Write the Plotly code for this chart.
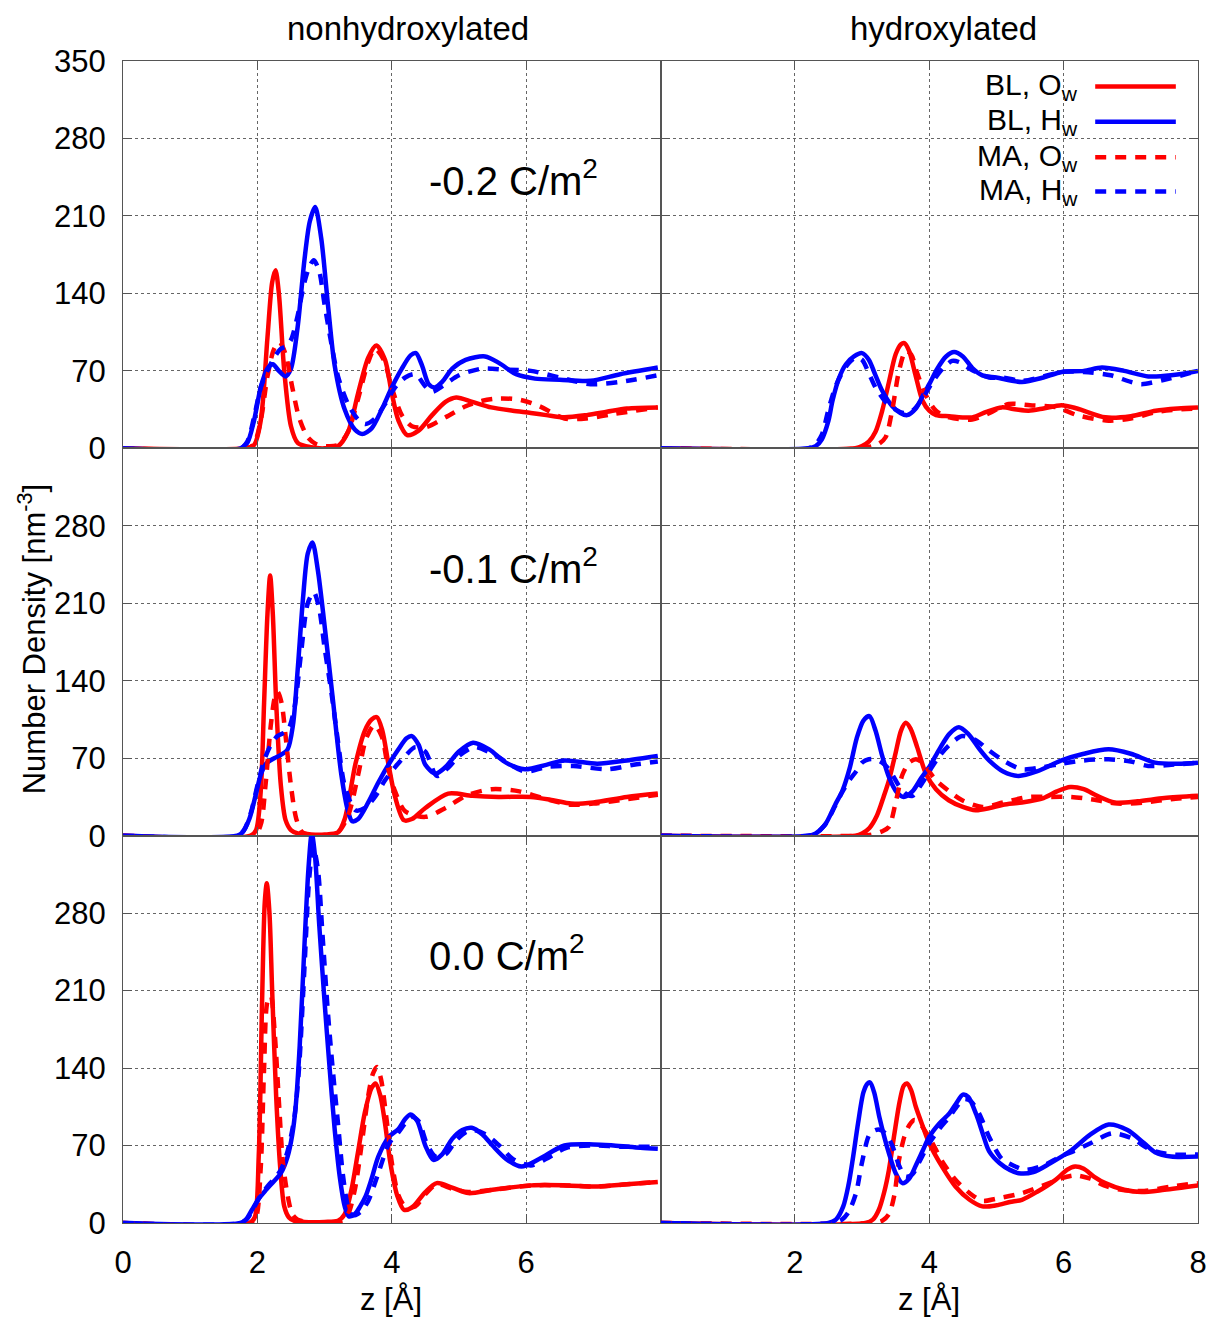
import plotly.graph_objects as go
from plotly.subplots import make_subplots

# ---------------- data (z in Angstrom, number density in nm^-3) ----------------
col_titles = ["nonhydroxylated", "hydroxylated"]
charge_labels = ["-0.2 C/m<sup>2</sup>", "-0.1 C/m<sup>2</sup>", "0.0 C/m<sup>2</sup>"]
series_names = ["BL, O<sub>w</sub>", "BL, H<sub>w</sub>", "MA, O<sub>w</sub>", "MA, H<sub>w</sub>"]
y_ticks = [0, 70, 140, 210, 280, 350]
x_ticks_left = [0, 2, 4, 6]
x_ticks_right = [2, 4, 6, 8]

# Row 1, left (-0.2, nonhydroxylated)
p1_blo_z = [0, 1.8, 1.95, 2.05, 2.15, 2.22, 2.27, 2.32, 2.4, 2.5, 2.6, 2.8, 3.0, 3.2, 3.35, 3.5, 3.65, 3.77, 3.9, 4.0, 4.1, 4.23, 4.4, 4.6, 4.8, 4.96, 5.2, 5.48, 5.8, 6.07, 6.3, 6.57, 6.9, 7.2, 7.5, 7.96]
p1_blo_n = [0, 0, 3, 25, 100, 150, 161, 140, 70, 20, 5, 1, 0, 2, 15, 50, 82, 93, 80, 50, 25, 12, 16, 30, 42, 46, 42, 37, 34, 32, 30, 28, 30, 33, 36, 37]
p1_blh_z = [0, 1.75, 1.85, 1.95, 2.05, 2.15, 2.23, 2.32, 2.42, 2.5, 2.6, 2.7, 2.78, 2.86, 2.95, 3.05, 3.15, 3.3, 3.45, 3.56, 3.7, 3.85, 4.0, 4.15, 4.28, 4.36, 4.45, 4.55, 4.64, 4.75, 4.9, 5.1, 5.39, 5.6, 5.85, 6.13, 6.5, 6.96, 7.4, 7.96]
p1_blh_n = [0, 0, 5, 25, 55, 72, 76, 70, 65, 72, 110, 170, 205, 218, 190, 130, 75, 35, 17, 13, 18, 35, 55, 72, 84, 86, 75, 58, 55, 60, 72, 80, 83, 77, 67, 63, 62, 61, 67, 73]
p1_mao_z = [0, 1.85, 1.95, 2.05, 2.15, 2.25, 2.33, 2.42, 2.52, 2.62, 2.75, 2.87, 3.0, 3.2, 3.35, 3.5, 3.65, 3.75, 3.88, 4.0, 4.15, 4.3, 4.5, 4.8, 5.1, 5.35, 5.59, 5.9, 6.2, 6.57, 6.9, 7.3, 7.96]
p1_mao_n = [0, 0, 4, 25, 65, 90, 96, 85, 55, 28, 10, 4, 2, 3, 15, 45, 78, 90, 80, 55, 30, 20, 19, 28, 38, 43, 45, 44, 38, 27, 27, 31, 37]
p1_mah_z = [0, 1.75, 1.85, 1.95, 2.05, 2.15, 2.25, 2.35, 2.42, 2.5, 2.6, 2.7, 2.78, 2.84, 2.92, 3.0, 3.1, 3.2, 3.35, 3.5, 3.61, 3.75, 3.9, 4.05, 4.2, 4.35, 4.5, 4.6, 4.75, 5.0, 5.34, 5.7, 6.07, 6.5, 6.96, 7.4, 7.96]
p1_mah_n = [0, 0, 6, 28, 55, 70, 82, 90, 92, 98, 120, 150, 165, 170, 160, 130, 95, 65, 40, 26, 22, 27, 40, 55, 64, 67, 56, 51, 56, 66, 72, 71, 70, 64, 58, 60, 66]

# Row 1, right (-0.2, hydroxylated)
p2_blo_z = [0, 2.9, 3.0, 3.1, 3.2, 3.3, 3.4, 3.5, 3.58, 3.63, 3.7, 3.8, 3.9, 4.0, 4.1, 4.3, 4.64, 4.85, 5.08, 5.3, 5.48, 5.7, 5.97, 6.2, 6.62, 7.0, 7.37, 7.7, 8.0]
p2_blo_n = [0, 0, 2, 6, 15, 34, 60, 85, 94, 95, 88, 65, 43, 34, 30, 29, 28, 33, 37, 35, 34, 36, 39, 36, 28, 29, 34, 36, 37]
p2_blh_z = [0, 2.2, 2.31, 2.4, 2.5, 2.56, 2.66, 2.76, 2.88, 3.0, 3.1, 3.2, 3.3, 3.45, 3.57, 3.67, 3.8, 3.9, 4.0, 4.12, 4.25, 4.37, 4.5, 4.65, 4.79, 5.0, 5.38, 5.7, 5.97, 6.3, 6.57, 6.9, 7.26, 7.6, 8.0]
p2_blh_n = [0, 0, 2, 8, 25, 43, 64, 76, 83, 86, 80, 66, 52, 38, 32, 30, 36, 47, 58, 72, 83, 87, 83, 72, 66, 64, 60, 64, 69, 70, 73, 70, 65, 66, 70]
p2_mao_z = [0, 3.0, 3.15, 3.25, 3.35, 3.45, 3.55, 3.65, 3.73, 3.82, 3.95, 4.1, 4.3, 4.64, 4.9, 5.18, 5.5, 5.9, 6.2, 6.67, 7.0, 7.4, 7.7, 8.0]
p2_mao_n = [0, 0, 2, 4, 10, 35, 70, 88, 85, 68, 48, 34, 28, 26, 32, 40, 39, 37, 30, 25, 27, 33, 35, 36]
p2_mah_z = [0, 2.2, 2.3, 2.4, 2.5, 2.6, 2.7, 2.8, 2.91, 3.0, 3.1, 3.2, 3.35, 3.5, 3.62, 3.75, 3.9, 4.05, 4.2, 4.34, 4.44, 4.6, 4.89, 5.1, 5.38, 5.7, 5.97, 6.3, 6.7, 7.0, 7.16, 7.5, 8.0]
p2_mah_n = [0, 0, 3, 12, 35, 55, 68, 77, 82, 80, 68, 55, 42, 35, 32, 34, 45, 60, 72, 79, 78, 72, 64, 64, 61, 65, 69, 69, 66, 60, 58, 62, 70]

# Row 2, left (-0.1, nonhydroxylated)
p3_blo_z = [0, 1.9, 1.98, 2.05, 2.1, 2.15, 2.19, 2.23, 2.28, 2.35, 2.42, 2.5, 2.6, 2.8, 3.0, 3.2, 3.3, 3.46, 3.6, 3.7, 3.78, 3.86, 3.95, 4.05, 4.18, 4.3, 4.5, 4.84, 5.2, 5.59, 6.07, 6.4, 6.67, 7.0, 7.5, 7.96]
p3_blo_n = [0, 0, 5, 40, 120, 200, 235, 200, 120, 45, 14, 5, 2, 1, 1, 3, 15, 65, 95, 105, 107, 95, 65, 35, 14, 15, 25, 38, 36, 35, 35, 32, 29, 30, 35, 38]
p3_blh_z = [0, 1.7, 1.78, 1.88, 1.98, 2.05, 2.13, 2.25, 2.35, 2.45, 2.53, 2.6, 2.68, 2.75, 2.82, 2.9, 3.0, 3.12, 3.25, 3.35, 3.41, 3.5, 3.65, 3.8, 3.96, 4.1, 4.22, 4.3, 4.4, 4.5, 4.65, 4.8, 5.0, 5.21, 5.45, 5.7, 5.98, 6.3, 6.57, 7.06, 7.5, 7.96]
p3_blh_n = [0, 0, 3, 15, 38, 55, 65, 70, 73, 78, 100, 150, 215, 255, 265, 240, 190, 125, 55, 22, 13, 15, 30, 48, 65, 78, 88, 90, 82, 64, 56, 62, 76, 84, 78, 66, 60, 64, 68, 65, 68, 72]
p3_mao_z = [0, 1.95, 2.05, 2.12, 2.2, 2.26, 2.3, 2.36, 2.42, 2.5, 2.58, 2.67, 2.8, 3.0, 3.2, 3.35, 3.5, 3.62, 3.74, 3.85, 3.95, 4.05, 4.2, 4.5, 4.8, 5.1, 5.49, 5.9, 6.3, 6.67, 7.0, 7.5, 7.96]
p3_mao_n = [0, 0, 10, 45, 100, 125, 130, 120, 90, 45, 15, 3, 1, 0, 3, 18, 55, 88, 100, 90, 60, 40, 22, 17, 25, 36, 42, 40, 33, 28, 29, 33, 37]
p3_mah_z = [0, 1.7, 1.8, 1.9, 2.0, 2.1, 2.2, 2.3, 2.45, 2.55, 2.65, 2.75, 2.84, 2.92, 3.0, 3.1, 3.2, 3.3, 3.46, 3.6, 3.75, 3.9, 4.05, 4.2, 4.35, 4.5, 4.67, 4.85, 5.0, 5.23, 5.5, 5.98, 6.3, 6.7, 7.2, 7.6, 7.96]
p3_mah_n = [0, 0, 5, 20, 45, 68, 82, 90, 95, 115, 165, 210, 220, 205, 170, 130, 85, 45, 23, 25, 35, 50, 62, 72, 80, 76, 54, 62, 72, 80, 74, 58, 62, 63, 60, 64, 67]

# Row 2, right (-0.1, hydroxylated)
p4_blo_z = [0, 2.9, 3.0, 3.11, 3.22, 3.32, 3.4, 3.5, 3.58, 3.65, 3.72, 3.82, 3.95, 4.1, 4.29, 4.5, 4.69, 4.9, 5.1, 5.38, 5.7, 5.9, 6.1, 6.3, 6.5, 6.76, 7.1, 7.5, 8.0]
p4_blo_n = [0, 0, 2, 7, 18, 35, 50, 75, 95, 102, 97, 80, 56, 42, 32, 26, 23, 25, 28, 30, 34, 40, 44, 42, 36, 30, 31, 34, 36]
p4_blh_z = [0, 2.2, 2.31, 2.45, 2.6, 2.71, 2.82, 2.92, 3.02, 3.11, 3.2, 3.3, 3.4, 3.52, 3.62, 3.75, 3.88, 4.0, 4.15, 4.3, 4.44, 4.58, 4.75, 4.89, 5.1, 5.33, 5.6, 5.97, 6.3, 6.67, 7.0, 7.36, 7.7, 8.0]
p4_blh_n = [0, 0, 2, 10, 28, 41, 62, 88, 104, 108, 95, 72, 53, 39, 35, 40, 52, 62, 78, 92, 98, 92, 78, 68, 58, 54, 58, 68, 74, 78, 74, 66, 65, 66]
p4_mao_z = [0, 3.0, 3.15, 3.3, 3.4, 3.5, 3.6, 3.7, 3.8, 3.9, 4.0, 4.1, 4.3, 4.49, 4.79, 5.1, 5.48, 5.8, 6.1, 6.4, 6.8, 7.2, 7.6, 8.0]
p4_mao_n = [0, 0, 1, 4, 8, 30, 55, 66, 69, 66, 58, 50, 40, 32, 26, 30, 35, 35, 35, 33, 29, 30, 33, 35]
p4_mah_z = [0, 2.2, 2.31, 2.45, 2.6, 2.71, 2.81, 2.91, 3.0, 3.1, 3.2, 3.3, 3.4, 3.55, 3.65, 3.75, 3.9, 4.02, 4.14, 4.3, 4.49, 4.7, 4.89, 5.1, 5.38, 5.7, 5.97, 6.3, 6.67, 7.0, 7.26, 7.6, 8.0]
p4_mah_n = [0, 0, 2, 10, 27, 40, 50, 58, 66, 69, 69, 66, 60, 45, 38, 36, 48, 60, 71, 82, 90, 86, 77, 68, 60, 62, 65, 68, 69, 67, 63, 64, 66]

# Row 3, left (0.0, nonhydroxylated)
p5_blo_z = [0, 1.88, 1.96, 2.02, 2.07, 2.11, 2.14, 2.18, 2.22, 2.28, 2.34, 2.4, 2.47, 2.55, 2.7, 3.0, 3.2, 3.3, 3.4, 3.5, 3.6, 3.7, 3.76, 3.83, 3.9, 3.98, 4.08, 4.18, 4.3, 4.5, 4.67, 4.9, 5.14, 5.5, 6.08, 6.6, 7.07, 7.5, 7.96]
p5_blo_n = [0, 0, 5, 60, 200, 290, 307, 280, 210, 114, 50, 15, 5, 2, 1, 1, 2, 8, 30, 65, 100, 122, 126, 115, 90, 54, 25, 12, 14, 28, 36, 32, 27, 30, 34, 34, 33, 35, 37]
p5_blh_z = [0, 1.75, 1.83, 1.92, 2.02, 2.13, 2.25, 2.35, 2.45, 2.52, 2.57, 2.63, 2.7, 2.76, 2.81, 2.86, 2.92, 3.0, 3.07, 3.15, 3.23, 3.3, 3.36, 3.45, 3.53, 3.61, 3.7, 3.8, 3.96, 4.1, 4.2, 4.28, 4.38, 4.5, 4.62, 4.75, 4.9, 5.05, 5.19, 5.35, 5.5, 5.7, 5.93, 6.2, 6.57, 7.0, 7.3, 7.7, 7.96]
p5_blh_n = [0, 0, 3, 12, 22, 30, 38, 45, 60, 80, 105, 160, 250, 320, 352, 330, 270, 200, 144, 85, 40, 15, 6, 8, 15, 24, 40, 60, 78, 85, 94, 98, 92, 70, 57, 62, 76, 84, 86, 80, 70, 58, 51, 58, 70, 71, 70, 68, 67]
p5_mao_z = [0, 1.9, 1.98, 2.05, 2.1, 2.15, 2.2, 2.26, 2.32, 2.38, 2.45, 2.52, 2.6, 2.75, 3.0, 3.25, 3.35, 3.45, 3.55, 3.65, 3.72, 3.78, 3.84, 3.92, 4.0, 4.1, 4.2, 4.35, 4.5, 4.67, 4.9, 5.14, 5.5, 6.08, 6.6, 7.07, 7.5, 7.96]
p5_mao_n = [0, 0, 5, 50, 140, 200, 205, 170, 110, 55, 25, 8, 3, 1, 0, 2, 8, 30, 70, 115, 135, 141, 130, 95, 55, 25, 15, 15, 26, 35, 31, 28, 30, 34, 34, 33, 35, 37]
p5_mah_z = [0, 1.75, 1.85, 1.95, 2.05, 2.15, 2.25, 2.35, 2.45, 2.55, 2.62, 2.7, 2.77, 2.83, 2.9, 2.97, 3.05, 3.12, 3.2, 3.27, 3.33, 3.38, 3.45, 3.55, 3.65, 3.8, 3.96, 4.1, 4.2, 4.3, 4.4, 4.52, 4.65, 4.8, 4.95, 5.1, 5.22, 5.4, 5.6, 5.8, 6.07, 6.3, 6.6, 7.0, 7.4, 7.96]
p5_mah_n = [0, 0, 4, 14, 25, 33, 40, 48, 65, 95, 140, 230, 310, 340, 320, 260, 190, 140, 90, 45, 20, 9, 7, 11, 20, 45, 72, 82, 90, 96, 92, 72, 60, 62, 74, 82, 84, 80, 70, 58, 52, 58, 68, 70, 69, 69]

# Row 3, right (0.0, hydroxylated)
p6_blo_z = [0, 3.05, 3.16, 3.25, 3.33, 3.4, 3.48, 3.56, 3.62, 3.67, 3.73, 3.8, 3.9, 4.0, 4.2, 4.39, 4.6, 4.79, 5.0, 5.2, 5.38, 5.6, 5.88, 6.05, 6.17, 6.3, 6.45, 6.62, 6.9, 7.16, 7.5, 8.0]
p6_blo_n = [0, 0, 3, 12, 28, 48, 80, 110, 124, 126, 120, 105, 88, 72, 50, 33, 21, 15, 16, 19, 21, 28, 39, 48, 51, 49, 42, 36, 30, 28, 30, 34]
p6_blh_z = [0, 2.5, 2.61, 2.72, 2.8, 2.86, 2.94, 3.02, 3.08, 3.12, 3.18, 3.26, 3.33, 3.4, 3.5, 3.6, 3.7, 3.8, 3.9, 4.0, 4.15, 4.3, 4.4, 4.5, 4.58, 4.7, 4.8, 4.89, 5.05, 5.2, 5.33, 5.55, 5.8, 6.12, 6.4, 6.67, 6.95, 7.2, 7.36, 7.6, 8.0]
p6_blh_n = [0, 0, 3, 15, 35, 57, 90, 118, 126, 127, 118, 95, 78, 63, 45, 36, 40, 52, 65, 78, 90, 99, 108, 116, 114, 98, 80, 65, 54, 48, 45, 46, 54, 66, 80, 89, 84, 72, 64, 60, 60]
p6_mao_z = [0, 3.15, 3.3, 3.4, 3.48, 3.55, 3.63, 3.7, 3.78, 3.86, 3.95, 4.05, 4.2, 4.39, 4.6, 4.79, 5.0, 5.38, 5.7, 5.95, 6.17, 6.4, 6.6, 6.86, 7.2, 7.6, 8.0]
p6_mao_n = [0, 0, 2, 8, 25, 57, 78, 88, 93, 90, 82, 72, 55, 39, 27, 20, 22, 27, 34, 40, 43, 40, 34, 30, 29, 33, 36]
p6_mah_z = [0, 2.55, 2.7, 2.8, 2.91, 3.0, 3.11, 3.2, 3.28, 3.36, 3.45, 3.55, 3.65, 3.75, 3.85, 4.0, 4.15, 4.3, 4.42, 4.52, 4.62, 4.75, 4.89, 5.08, 5.25, 5.43, 5.7, 5.95, 6.15, 6.4, 6.72, 7.0, 7.3, 7.6, 8.0]
p6_mah_n = [0, 0, 3, 10, 27, 55, 80, 84, 84, 80, 70, 52, 42, 44, 55, 72, 85, 96, 106, 112, 110, 98, 78, 58, 52, 48, 52, 60, 65, 72, 81, 77, 66, 62, 62]

# ---------------- figure ----------------
RED = "#ff0000"
BLUE = "#0000ff"
FONT = "Liberation Sans, Arial, sans-serif"
LW = 4.5
DASH = "11px,9px"

styles = [(RED, "solid"), (BLUE, "solid"), (RED, DASH), (BLUE, DASH)]

panels = [
    (1, 1, [(p1_blo_z, p1_blo_n), (p1_blh_z, p1_blh_n), (p1_mao_z, p1_mao_n), (p1_mah_z, p1_mah_n)]),
    (1, 2, [(p2_blo_z, p2_blo_n), (p2_blh_z, p2_blh_n), (p2_mao_z, p2_mao_n), (p2_mah_z, p2_mah_n)]),
    (2, 1, [(p3_blo_z, p3_blo_n), (p3_blh_z, p3_blh_n), (p3_mao_z, p3_mao_n), (p3_mah_z, p3_mah_n)]),
    (2, 2, [(p4_blo_z, p4_blo_n), (p4_blh_z, p4_blh_n), (p4_mao_z, p4_mao_n), (p4_mah_z, p4_mah_n)]),
    (3, 1, [(p5_blo_z, p5_blo_n), (p5_blh_z, p5_blh_n), (p5_mao_z, p5_mao_n), (p5_mah_z, p5_mah_n)]),
    (3, 2, [(p6_blo_z, p6_blo_n), (p6_blh_z, p6_blh_n), (p6_mao_z, p6_mao_n), (p6_mah_z, p6_mah_n)]),
]

fig = make_subplots(rows=3, cols=2, horizontal_spacing=0, vertical_spacing=0)

for r, c, series in panels:
    for (z, n), (col, dash), name in zip(series, styles, series_names):
        fig.add_trace(go.Scatter(
            x=z, y=n, mode="lines", name=name, showlegend=False,
            line=dict(color=col, width=LW, dash=dash, shape="spline", smoothing=0.8),
            hoverinfo="skip"), row=r, col=c)

axis_common = dict(
    showline=True, linecolor="#555555", linewidth=1.2, mirror="ticks",
    ticks="inside", ticklen=9, tickcolor="#555555", tickwidth=1.2,
    showgrid=True, gridcolor="#666666", gridwidth=1, griddash="dot",
    zeroline=False, tickfont=dict(family=FONT, size=31, color="black"),
)

for r in (1, 2, 3):
    for c in (1, 2):
        xt = x_ticks_left if c == 1 else x_ticks_right
        fig.update_xaxes(
            range=[0, 8], tickvals=[0, 2, 4, 6, 8],
            ticktext=[str(v) if (v in xt and r == 3) else "" for v in [0, 2, 4, 6, 8]],
            ticklabelstandoff=12,
            **axis_common, row=r, col=c)
        ytv = y_ticks if r == 1 else y_ticks[:-1]
        fig.update_yaxes(
            range=[0, 350], tickvals=y_ticks,
            ticktext=[str(v) if (v in ytv and c == 1) else "" for v in y_ticks],
            ticklabelstandoff=10,
            **axis_common, row=r, col=c)

# charge annotations in left panels
for i, lab in enumerate(charge_labels):
    xref = "x" if i == 0 else f"x{2*i+1}"
    yref = "y" if i == 0 else f"y{2*i+1}"
    fig.add_annotation(x=4.52, y=244, xref=xref, yref=yref, text=lab, showarrow=False,
                       xanchor="left", yanchor="middle",
                       font=dict(family=FONT, size=40, color="black"))

# column titles
fig.add_annotation(x=0.265, y=1.028, xref="paper", yref="paper", text=col_titles[0],
                   showarrow=False, xanchor="center", yanchor="middle",
                   font=dict(family=FONT, size=33, color="black"))
fig.add_annotation(x=0.763, y=1.028, xref="paper", yref="paper", text=col_titles[1],
                   showarrow=False, xanchor="center", yanchor="middle",
                   font=dict(family=FONT, size=33, color="black"))

# x titles
for xp in (0.249, 0.75):
    fig.add_annotation(x=xp, y=-0.066, xref="paper", yref="paper", text="z [Å]",
                       showarrow=False, xanchor="center", yanchor="middle",
                       font=dict(family=FONT, size=31, color="black"))

# y title
fig.add_annotation(x=-0.085, y=0.502, xref="paper", yref="paper",
                   text="Number Density [nm<sup>-3</sup>]", textangle=-90,
                   showarrow=False, xanchor="center", yanchor="middle",
                   font=dict(family=FONT, size=31, color="black"))

# legend (drawn inside top-right panel, key to the right of the text)
leg_y = [327, 295, 263, 232]
for name, (col, dash), ly in zip(series_names, styles, leg_y):
    fig.add_annotation(x=6.25, y=ly, xref="x2", yref="y2", text=name, showarrow=False,
                       xanchor="right", yanchor="middle",
                       font=dict(family=FONT, size=30, color="black"))
    fig.add_shape(type="line", x0=6.47, x1=7.67, y0=ly, y1=ly, xref="x2", yref="y2",
                  line=dict(color=col, width=LW, dash=dash))

fig.update_layout(
    width=1219, height=1320,
    margin=dict(l=123, r=15, t=61, b=97),
    paper_bgcolor="white", plot_bgcolor="white",
    showlegend=False,
    font=dict(family=FONT, color="black"),
)

fig.write_html("out.html")
